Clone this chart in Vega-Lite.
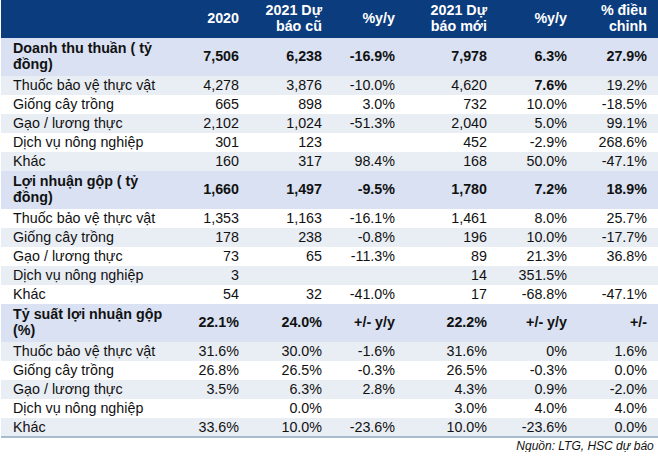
{
  "$schema": "https://vega.github.io/schema/vega-lite/v6.json",
  "padding": 0,
  "spacing": 0,
  "bounds": "flush",
  "config": {"view": {"stroke": null}, "concat": {"spacing": 0}, "text": {"font": "Liberation Sans", "fontSize": 14.3, "color": "#111111", "baseline": "middle", "lineHeight": 16}},
  "title": {"text": "Nguồn: LTG, HSC dự báo", "orient": "bottom", "anchor": "end", "font": "Liberation Sans", "fontSize": 12, "fontStyle": "italic", "fontWeight": "normal", "color": "#111111", "offset": 3, "dx": -6},
  "data": {"values": [
    {"line": 0, "kind": "header", "label": "", "c1": "2020", "c2": ["2021 Dự", "báo cũ"], "c3": "%y/y", "c4": ["2021 Dự", "báo mới"], "c5": "%y/y", "c6": ["% điều", "chỉnh"]},
    {"line": 1, "kind": "header"},
    {"line": 2, "kind": "section", "label": ["Doanh thu thuần ( tỷ", "đồng)"], "c1": "7,506", "c2": "6,238", "c3": "-16.9%", "c4": "7,978", "c5": "6.3%", "c6": "27.9%"},
    {"line": 3, "kind": "section"},
    {"line": 4, "kind": "item", "label": "Thuốc bảo vệ thực vật", "c1": "4,278", "c2": "3,876", "c3": "-10.0%", "c4": "4,620", "c5": "7.6%", "c6": "19.2%"},
    {"line": 5, "kind": "item", "label": "Giống cây trồng", "c1": "665", "c2": "898", "c3": "3.0%", "c4": "732", "c5": "10.0%", "c6": "-18.5%"},
    {"line": 6, "kind": "item", "label": "Gạo / lương thực", "c1": "2,102", "c2": "1,024", "c3": "-51.3%", "c4": "2,040", "c5": "5.0%", "c6": "99.1%"},
    {"line": 7, "kind": "item", "label": "Dịch vụ nông nghiệp", "c1": "301", "c2": "123", "c3": "", "c4": "452", "c5": "-2.9%", "c6": "268.6%"},
    {"line": 8, "kind": "item", "label": "Khác", "c1": "160", "c2": "317", "c3": "98.4%", "c4": "168", "c5": "50.0%", "c6": "-47.1%"},
    {"line": 9, "kind": "section", "label": ["Lợi nhuận gộp ( tỷ", "đồng)"], "c1": "1,660", "c2": "1,497", "c3": "-9.5%", "c4": "1,780", "c5": "7.2%", "c6": "18.9%"},
    {"line": 10, "kind": "section"},
    {"line": 11, "kind": "item", "label": "Thuốc bảo vệ thực vật", "c1": "1,353", "c2": "1,163", "c3": "-16.1%", "c4": "1,461", "c5": "8.0%", "c6": "25.7%"},
    {"line": 12, "kind": "item", "label": "Giống cây trồng", "c1": "178", "c2": "238", "c3": "-0.8%", "c4": "196", "c5": "10.0%", "c6": "-17.7%"},
    {"line": 13, "kind": "item", "label": "Gạo / lương thực", "c1": "73", "c2": "65", "c3": "-11.3%", "c4": "89", "c5": "21.3%", "c6": "36.8%"},
    {"line": 14, "kind": "item", "label": "Dịch vụ nông nghiệp", "c1": "3", "c2": "", "c3": "", "c4": "14", "c5": "351.5%", "c6": ""},
    {"line": 15, "kind": "item", "label": "Khác", "c1": "54", "c2": "32", "c3": "-41.0%", "c4": "17", "c5": "-68.8%", "c6": "-47.1%"},
    {"line": 16, "kind": "section", "label": ["Tỷ suất lợi nhuận gộp", "(%)"], "c1": "22.1%", "c2": "24.0%", "c3": "+/- y/y", "c4": "22.2%", "c5": "+/- y/y", "c6": "+/-"},
    {"line": 17, "kind": "section"},
    {"line": 18, "kind": "item", "label": "Thuốc bảo vệ thực vật", "c1": "31.6%", "c2": "30.0%", "c3": "-1.6%", "c4": "31.6%", "c5": "0%", "c6": "1.6%"},
    {"line": 19, "kind": "item", "label": "Giống cây trồng", "c1": "26.8%", "c2": "26.5%", "c3": "-0.3%", "c4": "26.5%", "c5": "-0.3%", "c6": "0.0%"},
    {"line": 20, "kind": "item", "label": "Gạo / lương thực", "c1": "3.5%", "c2": "6.3%", "c3": "2.8%", "c4": "4.3%", "c5": "0.9%", "c6": "-2.0%"},
    {"line": 21, "kind": "item", "label": "Dịch vụ nông nghiệp", "c1": "", "c2": "0.0%", "c3": "", "c4": "3.0%", "c5": "4.0%", "c6": "4.0%"},
    {"line": 22, "kind": "item", "label": "Khác", "c1": "33.6%", "c2": "10.0%", "c3": "-23.6%", "c4": "10.0%", "c5": "-23.6%", "c6": "0.0%"}
  ]},
  "hconcat": [
    {"width": 164, "height": 437, "layer": [
      {"mark": "rect", "encoding": {"y": {"field": "line", "type": "ordinal", "axis": null, "scale": {"type": "band", "paddingInner": 0, "paddingOuter": 0}}, "fill": {"condition": {"test": "datum.kind == 'item' && datum.line % 2 == 0", "value": "#E9EDF4"}, "field": "kind", "type": "nominal", "legend": null, "scale": {"domain": ["header", "section", "item"], "range": ["#0B3C7D", "#D9E1F2", "#FFFFFF"]}}}},
      {"mark": "rule", "transform": [{"filter": "datum.line == 22"}], "encoding": {"y": {"field": "line", "type": "ordinal", "bandPosition": 1, "axis": null, "scale": {"type": "band", "paddingInner": 0, "paddingOuter": 0}}, "color": {"value": "#8FA8C2"}, "strokeWidth": {"value": 1.5}}},
      {"mark": {"type": "text", "align": "left", "x": 0, "dx": 12, "dy": -8, "fontWeight": "bold"}, "transform": [{"filter": "datum.kind == 'section' && isValid(datum.label)"}], "encoding": {"y": {"field": "line", "type": "ordinal", "bandPosition": 1, "axis": null, "scale": {"type": "band", "paddingInner": 0, "paddingOuter": 0}}, "text": {"field": "label"}}},
      {"mark": {"type": "text", "align": "left", "x": 0, "dx": 12}, "transform": [{"filter": "datum.kind == 'item'"}], "encoding": {"y": {"field": "line", "type": "ordinal", "axis": null, "scale": {"type": "band", "paddingInner": 0, "paddingOuter": 0}}, "text": {"field": "label"}}}
    ]},
    {"width": 80, "height": 437, "layer": [
      {"mark": "rect", "encoding": {"y": {"field": "line", "type": "ordinal", "axis": null, "scale": {"type": "band", "paddingInner": 0, "paddingOuter": 0}}, "fill": {"condition": {"test": "datum.kind == 'item' && datum.line % 2 == 0", "value": "#E9EDF4"}, "field": "kind", "type": "nominal", "legend": null, "scale": {"domain": ["header", "section", "item"], "range": ["#0B3C7D", "#D9E1F2", "#FFFFFF"]}}}},
      {"mark": "rule", "transform": [{"filter": "datum.line == 22"}], "encoding": {"y": {"field": "line", "type": "ordinal", "bandPosition": 1, "axis": null, "scale": {"type": "band", "paddingInner": 0, "paddingOuter": 0}}, "color": {"value": "#8FA8C2"}, "strokeWidth": {"value": 1.5}}},
      {"mark": {"type": "text", "align": "right", "x": "width", "dx": -6, "fontWeight": "bold", "color": "#FFFFFF"}, "transform": [{"filter": "datum.kind == 'header' && isValid(datum.c1)"}], "encoding": {"y": {"field": "line", "type": "ordinal", "bandPosition": 1, "axis": null, "scale": {"type": "band", "paddingInner": 0, "paddingOuter": 0}}, "text": {"field": "c1"}}},
      {"mark": {"type": "text", "align": "right", "x": "width", "dx": -6, "fontWeight": "bold"}, "transform": [{"filter": "datum.kind == 'section' && isValid(datum.c1)"}], "encoding": {"y": {"field": "line", "type": "ordinal", "bandPosition": 1, "axis": null, "scale": {"type": "band", "paddingInner": 0, "paddingOuter": 0}}, "text": {"field": "c1"}}},
      {"mark": {"type": "text", "align": "right", "x": "width", "dx": -6}, "transform": [{"filter": "datum.kind == 'item'"}], "encoding": {"y": {"field": "line", "type": "ordinal", "axis": null, "scale": {"type": "band", "paddingInner": 0, "paddingOuter": 0}}, "text": {"field": "c1"}}}
    ]},
    {"width": 83, "height": 437, "layer": [
      {"mark": "rect", "encoding": {"y": {"field": "line", "type": "ordinal", "axis": null, "scale": {"type": "band", "paddingInner": 0, "paddingOuter": 0}}, "fill": {"condition": {"test": "datum.kind == 'item' && datum.line % 2 == 0", "value": "#E9EDF4"}, "field": "kind", "type": "nominal", "legend": null, "scale": {"domain": ["header", "section", "item"], "range": ["#0B3C7D", "#D9E1F2", "#FFFFFF"]}}}},
      {"mark": "rule", "transform": [{"filter": "datum.line == 22"}], "encoding": {"y": {"field": "line", "type": "ordinal", "bandPosition": 1, "axis": null, "scale": {"type": "band", "paddingInner": 0, "paddingOuter": 0}}, "color": {"value": "#8FA8C2"}, "strokeWidth": {"value": 1.5}}},
      {"mark": {"type": "text", "align": "right", "x": "width", "dx": -6, "dy": -8, "fontWeight": "bold", "color": "#FFFFFF"}, "transform": [{"filter": "datum.kind == 'header' && isValid(datum.c2)"}], "encoding": {"y": {"field": "line", "type": "ordinal", "bandPosition": 1, "axis": null, "scale": {"type": "band", "paddingInner": 0, "paddingOuter": 0}}, "text": {"field": "c2"}}},
      {"mark": {"type": "text", "align": "right", "x": "width", "dx": -6, "fontWeight": "bold"}, "transform": [{"filter": "datum.kind == 'section' && isValid(datum.c2)"}], "encoding": {"y": {"field": "line", "type": "ordinal", "bandPosition": 1, "axis": null, "scale": {"type": "band", "paddingInner": 0, "paddingOuter": 0}}, "text": {"field": "c2"}}},
      {"mark": {"type": "text", "align": "right", "x": "width", "dx": -6}, "transform": [{"filter": "datum.kind == 'item'"}], "encoding": {"y": {"field": "line", "type": "ordinal", "axis": null, "scale": {"type": "band", "paddingInner": 0, "paddingOuter": 0}}, "text": {"field": "c2"}}}
    ]},
    {"width": 73, "height": 437, "layer": [
      {"mark": "rect", "encoding": {"y": {"field": "line", "type": "ordinal", "axis": null, "scale": {"type": "band", "paddingInner": 0, "paddingOuter": 0}}, "fill": {"condition": {"test": "datum.kind == 'item' && datum.line % 2 == 0", "value": "#E9EDF4"}, "field": "kind", "type": "nominal", "legend": null, "scale": {"domain": ["header", "section", "item"], "range": ["#0B3C7D", "#D9E1F2", "#FFFFFF"]}}}},
      {"mark": "rule", "transform": [{"filter": "datum.line == 22"}], "encoding": {"y": {"field": "line", "type": "ordinal", "bandPosition": 1, "axis": null, "scale": {"type": "band", "paddingInner": 0, "paddingOuter": 0}}, "color": {"value": "#8FA8C2"}, "strokeWidth": {"value": 1.5}}},
      {"mark": {"type": "text", "align": "right", "x": "width", "dx": -6, "fontWeight": "bold", "color": "#FFFFFF"}, "transform": [{"filter": "datum.kind == 'header' && isValid(datum.c3)"}], "encoding": {"y": {"field": "line", "type": "ordinal", "bandPosition": 1, "axis": null, "scale": {"type": "band", "paddingInner": 0, "paddingOuter": 0}}, "text": {"field": "c3"}}},
      {"mark": {"type": "text", "align": "right", "x": "width", "dx": -6, "fontWeight": "bold"}, "transform": [{"filter": "datum.kind == 'section' && isValid(datum.c3)"}], "encoding": {"y": {"field": "line", "type": "ordinal", "bandPosition": 1, "axis": null, "scale": {"type": "band", "paddingInner": 0, "paddingOuter": 0}}, "text": {"field": "c3"}}},
      {"mark": {"type": "text", "align": "right", "x": "width", "dx": -6}, "transform": [{"filter": "datum.kind == 'item'"}], "encoding": {"y": {"field": "line", "type": "ordinal", "axis": null, "scale": {"type": "band", "paddingInner": 0, "paddingOuter": 0}}, "text": {"field": "c3"}}}
    ]},
    {"width": 92, "height": 437, "layer": [
      {"mark": "rect", "encoding": {"y": {"field": "line", "type": "ordinal", "axis": null, "scale": {"type": "band", "paddingInner": 0, "paddingOuter": 0}}, "fill": {"condition": {"test": "datum.kind == 'item' && datum.line % 2 == 0", "value": "#E9EDF4"}, "field": "kind", "type": "nominal", "legend": null, "scale": {"domain": ["header", "section", "item"], "range": ["#0B3C7D", "#D9E1F2", "#FFFFFF"]}}}},
      {"mark": "rule", "transform": [{"filter": "datum.line == 22"}], "encoding": {"y": {"field": "line", "type": "ordinal", "bandPosition": 1, "axis": null, "scale": {"type": "band", "paddingInner": 0, "paddingOuter": 0}}, "color": {"value": "#8FA8C2"}, "strokeWidth": {"value": 1.5}}},
      {"mark": {"type": "text", "align": "right", "x": "width", "dx": -6, "dy": -8, "fontWeight": "bold", "color": "#FFFFFF"}, "transform": [{"filter": "datum.kind == 'header' && isValid(datum.c4)"}], "encoding": {"y": {"field": "line", "type": "ordinal", "bandPosition": 1, "axis": null, "scale": {"type": "band", "paddingInner": 0, "paddingOuter": 0}}, "text": {"field": "c4"}}},
      {"mark": {"type": "text", "align": "right", "x": "width", "dx": -6, "fontWeight": "bold"}, "transform": [{"filter": "datum.kind == 'section' && isValid(datum.c4)"}], "encoding": {"y": {"field": "line", "type": "ordinal", "bandPosition": 1, "axis": null, "scale": {"type": "band", "paddingInner": 0, "paddingOuter": 0}}, "text": {"field": "c4"}}},
      {"mark": {"type": "text", "align": "right", "x": "width", "dx": -6}, "transform": [{"filter": "datum.kind == 'item'"}], "encoding": {"y": {"field": "line", "type": "ordinal", "axis": null, "scale": {"type": "band", "paddingInner": 0, "paddingOuter": 0}}, "text": {"field": "c4"}}}
    ]},
    {"width": 80, "height": 437, "layer": [
      {"mark": "rect", "encoding": {"y": {"field": "line", "type": "ordinal", "axis": null, "scale": {"type": "band", "paddingInner": 0, "paddingOuter": 0}}, "fill": {"condition": {"test": "datum.kind == 'item' && datum.line % 2 == 0", "value": "#E9EDF4"}, "field": "kind", "type": "nominal", "legend": null, "scale": {"domain": ["header", "section", "item"], "range": ["#0B3C7D", "#D9E1F2", "#FFFFFF"]}}}},
      {"mark": "rule", "transform": [{"filter": "datum.line == 22"}], "encoding": {"y": {"field": "line", "type": "ordinal", "bandPosition": 1, "axis": null, "scale": {"type": "band", "paddingInner": 0, "paddingOuter": 0}}, "color": {"value": "#8FA8C2"}, "strokeWidth": {"value": 1.5}}},
      {"mark": {"type": "text", "align": "right", "x": "width", "dx": -6, "fontWeight": "bold", "color": "#FFFFFF"}, "transform": [{"filter": "datum.kind == 'header' && isValid(datum.c5)"}], "encoding": {"y": {"field": "line", "type": "ordinal", "bandPosition": 1, "axis": null, "scale": {"type": "band", "paddingInner": 0, "paddingOuter": 0}}, "text": {"field": "c5"}}},
      {"mark": {"type": "text", "align": "right", "x": "width", "dx": -6, "fontWeight": "bold"}, "transform": [{"filter": "datum.kind == 'section' && isValid(datum.c5)"}], "encoding": {"y": {"field": "line", "type": "ordinal", "bandPosition": 1, "axis": null, "scale": {"type": "band", "paddingInner": 0, "paddingOuter": 0}}, "text": {"field": "c5"}}},
      {"mark": {"type": "text", "align": "right", "x": "width", "dx": -6, "fontWeight": "bold"}, "transform": [{"filter": "datum.line == 4"}], "encoding": {"y": {"field": "line", "type": "ordinal", "axis": null, "scale": {"type": "band", "paddingInner": 0, "paddingOuter": 0}}, "text": {"field": "c5"}}},
      {"mark": {"type": "text", "align": "right", "x": "width", "dx": -6}, "transform": [{"filter": "datum.kind == 'item' && datum.line != 4"}], "encoding": {"y": {"field": "line", "type": "ordinal", "axis": null, "scale": {"type": "band", "paddingInner": 0, "paddingOuter": 0}}, "text": {"field": "c5"}}}
    ]},
    {"width": 86, "height": 437, "layer": [
      {"mark": "rect", "encoding": {"y": {"field": "line", "type": "ordinal", "axis": null, "scale": {"type": "band", "paddingInner": 0, "paddingOuter": 0}}, "fill": {"condition": {"test": "datum.kind == 'item' && datum.line % 2 == 0", "value": "#E9EDF4"}, "field": "kind", "type": "nominal", "legend": null, "scale": {"domain": ["header", "section", "item"], "range": ["#0B3C7D", "#D9E1F2", "#FFFFFF"]}}}},
      {"mark": "rule", "transform": [{"filter": "datum.line == 22"}], "encoding": {"y": {"field": "line", "type": "ordinal", "bandPosition": 1, "axis": null, "scale": {"type": "band", "paddingInner": 0, "paddingOuter": 0}}, "color": {"value": "#8FA8C2"}, "strokeWidth": {"value": 1.5}}},
      {"mark": {"type": "text", "align": "right", "x": "width", "dx": -12, "dy": -8, "fontWeight": "bold", "color": "#FFFFFF"}, "transform": [{"filter": "datum.kind == 'header' && isValid(datum.c6)"}], "encoding": {"y": {"field": "line", "type": "ordinal", "bandPosition": 1, "axis": null, "scale": {"type": "band", "paddingInner": 0, "paddingOuter": 0}}, "text": {"field": "c6"}}},
      {"mark": {"type": "text", "align": "right", "x": "width", "dx": -12, "fontWeight": "bold"}, "transform": [{"filter": "datum.kind == 'section' && isValid(datum.c6)"}], "encoding": {"y": {"field": "line", "type": "ordinal", "bandPosition": 1, "axis": null, "scale": {"type": "band", "paddingInner": 0, "paddingOuter": 0}}, "text": {"field": "c6"}}},
      {"mark": {"type": "text", "align": "right", "x": "width", "dx": -12}, "transform": [{"filter": "datum.kind == 'item'"}], "encoding": {"y": {"field": "line", "type": "ordinal", "axis": null, "scale": {"type": "band", "paddingInner": 0, "paddingOuter": 0}}, "text": {"field": "c6"}}}
    ]}
  ]
}
